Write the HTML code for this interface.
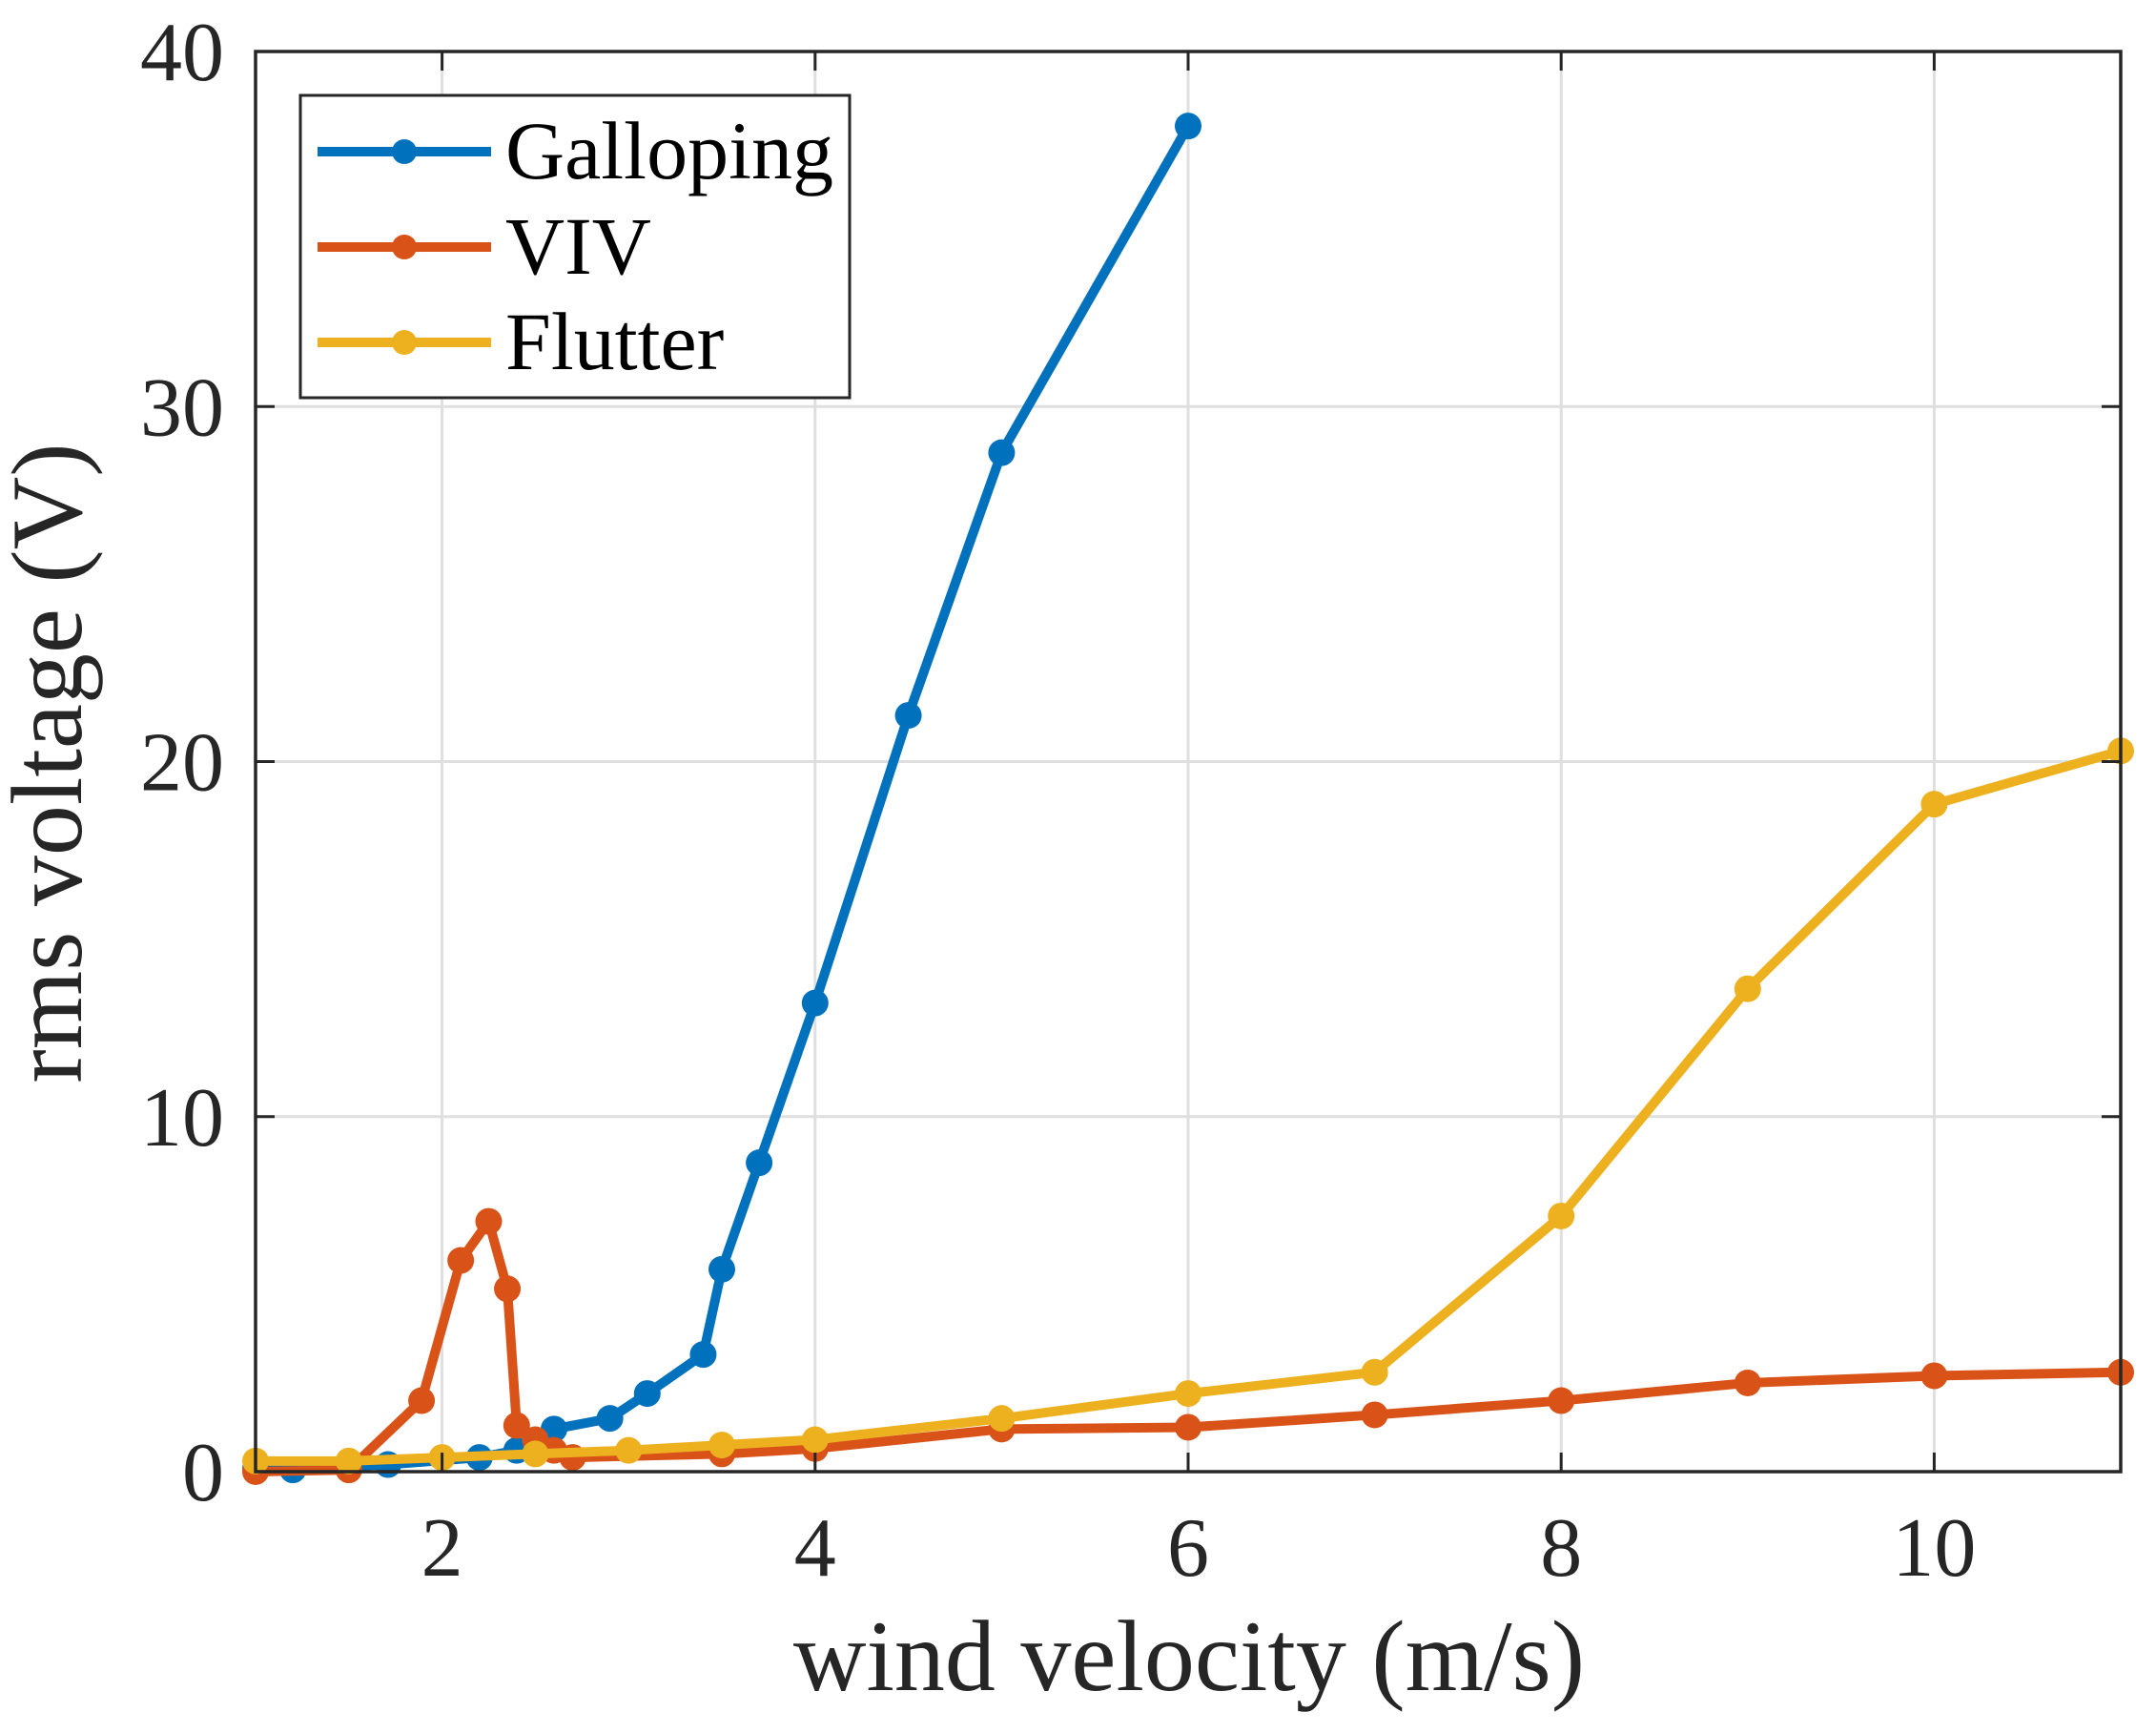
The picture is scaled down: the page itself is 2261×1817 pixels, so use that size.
<!DOCTYPE html>
<html><head><meta charset="utf-8"><style>
html,body{margin:0;padding:0;background:#fff;}
svg{display:block;font-family:"Liberation Serif",serif;}
</style></head><body>
<svg id="chart" width="2261" height="1817" viewBox="0 0 2261 1817" xmlns="http://www.w3.org/2000/svg">
<rect x="0" y="0" width="2261" height="1817" fill="#fff"/>
<g id="grid"></g>
<g id="series"></g>
<g id="axes"></g>
<text x="1247" y="1772" font-size="106" text-anchor="middle" fill="#262626">wind velocity (m/s)</text>
<text transform="translate(85,800) rotate(-90)" font-size="106" text-anchor="middle" fill="#262626">rms voltage (V)</text>
<g id="legend">
<rect x="315" y="100" width="576" height="317" fill="#fff" stroke="#262626" stroke-width="3"/>
</g>
</svg>
<script>
const xTicks=[2,4,6,8,10];
const yTicks=[0,10,20,30,40];
const galX=[1,1.2,1.5,1.71,2.2,2.4,2.6,2.9,3.1,3.4,3.5,3.7,4,4.5,5,6];
const galY=[0.1,0.05,0.15,0.2,0.4,0.6,1.2,1.5,2.2,3.3,5.7,8.7,13.2,21.3,28.7,37.9];
const vivX=[1,1.5,1.89,2.1,2.25,2.35,2.4,2.5,2.6,2.7,3.5,4,5,6,7,8,9,10,11];
const vivY=[0.0,0.05,2.0,5.95,7.05,5.15,1.3,0.9,0.6,0.4,0.5,0.65,1.2,1.25,1.6,2.0,2.5,2.7,2.8];
const fluX=[1,1.5,2,2.5,3,3.5,4,5,6,7,8,9,10,11];
const fluY=[0.3,0.3,0.4,0.5,0.6,0.75,0.9,1.5,2.2,2.8,7.2,13.6,18.8,20.3];
const seriesNames=["Galloping","VIV","Flutter"];
const colors=["#0072BD","#D95319","#EDB120"];

const L=268,R=2224,T=54,B=1543;
const X=v=>L+(v-1)/(11-1)*(R-L);
const Y=v=>B-(v/40)*(B-T);
const NS="http://www.w3.org/2000/svg";
function mk(tag,attrs,parent){const e=document.createElementNS(NS,tag);for(const k in attrs)e.setAttribute(k,attrs[k]);parent.appendChild(e);return e;}
const grid=document.getElementById('grid'),axes=document.getElementById('axes'),ser=document.getElementById('series'),leg=document.getElementById('legend');
xTicks.forEach(t=>{
  const g=mk('line',{x1:X(t),x2:X(t),y1:T,y2:B,stroke:'#dfdfdf','stroke-width':3},grid);
  
  
  mk('line',{x1:X(t),x2:X(t),y1:B,y2:B-20,stroke:'#262626','stroke-width':3},axes);
  mk('line',{x1:X(t),x2:X(t),y1:T,y2:T+20,stroke:'#262626','stroke-width':3},axes);
  const tx=mk('text',{x:X(t),y:1652,'font-size':88,'text-anchor':'middle',fill:'#262626'},axes);
  tx.textContent=t;
  
  
});
yTicks.forEach(t=>{
  const g=mk('line',{x1:L,x2:R,y1:Y(t),y2:Y(t),stroke:'#dfdfdf','stroke-width':3},grid);
  
  
  mk('line',{x1:L,x2:L+20,y1:Y(t),y2:Y(t),stroke:'#262626','stroke-width':3},axes);
  mk('line',{x1:R,x2:R-20,y1:Y(t),y2:Y(t),stroke:'#262626','stroke-width':3},axes);
  const tx=mk('text',{x:235,y:Y(t)+30,'font-size':88,'text-anchor':'end',fill:'#262626'},axes);
  tx.textContent=t;
  
  
});
mk('rect',{x:L,y:T,width:R-L,height:B-T,fill:'none',stroke:'#262626','stroke-width':3.5},axes);
const data=[[galX,galY],[vivX,vivY],[fluX,fluY]];
data.forEach((d,i)=>{
  const g=mk('g',{},ser);
  
  
  const pts=d[0].map((x,j)=>X(x)+','+Y(d[1][j])).join(' ');
  const pl=mk('polyline',{points:pts,fill:'none',stroke:colors[i],'stroke-width':10,'stroke-linejoin':'round'},g);
  
  
  d[0].forEach((x,j)=>{
    const c=mk('circle',{cx:X(x),cy:Y(d[1][j]),r:14,fill:colors[i]},g);
    
    
  });
  const ly=159+i*100;
  const lg=mk('g',{},leg);
  
  
  mk('line',{x1:333,x2:515,y1:ly,y2:ly,stroke:colors[i],'stroke-width':10},lg);
  mk('circle',{cx:424,cy:ly,r:13,fill:colors[i]},lg);
  const t=mk('text',{x:530,y:ly+28,'font-size':86,fill:'#000'},lg);
  t.textContent=seriesNames[i];
});
</script>
</body></html>
